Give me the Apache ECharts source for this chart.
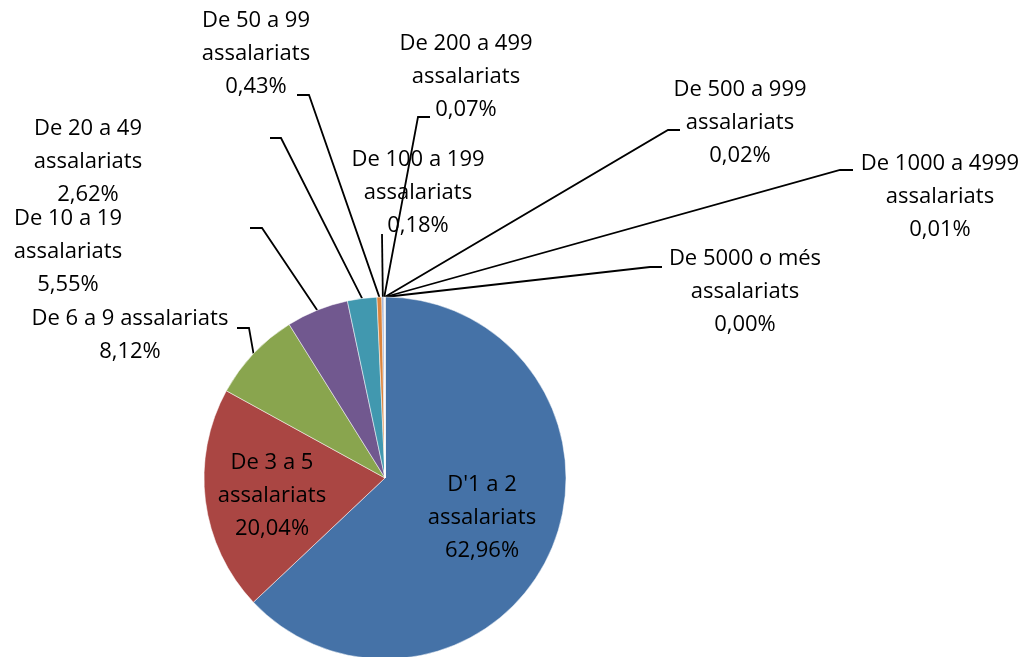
<!DOCTYPE html>
<html>
<head>
    <meta charset="utf-8" />
    <title>ECharts</title>
</head>
<body style="margin:0;background:#fff;">
<script src="https://cdn.jsdelivr.net/npm/echarts@6.0.0/dist/echarts.min.js"></script>
<div id="main" style="width: 1032px;height:657px;"></div>
<script type="text/javascript">
    // categories and their shares (%)
    var categories = [
        "D'1 a 2\nassalariats",
        'De 3 a 5\nassalariats',
        'De 6 a 9 assalariats',
        'De 10 a 19\nassalariats',
        'De 20 a 49\nassalariats',
        'De 50 a 99\nassalariats',
        'De 100 a 199\nassalariats',
        'De 200 a 499\nassalariats',
        'De 500 a 999\nassalariats',
        'De 1000 a 4999\nassalariats',
        'De 5000 o més\nassalariats'
    ];
    var shares = [62.96, 20.04, 8.12, 5.55, 2.62, 0.43, 0.18, 0.07, 0.02, 0.01, 0.00];

    var colors = ['#4572A7', '#AA4643', '#89A54E', '#71588F', '#4198AF', '#DB843D',
        '#93A9CF', '#D19392', '#B9CD96', '#A99BBD', '#91C3D5'];

    // label centers and leader line elbow / end (null = inside, no line)
    var labelPos = [
        [482, 518], [272, 496], [130, 335], [68, 252], [88, 162], [256, 54],
        [418, 193], [466, 77], [740, 123], [940, 197], [745, 292]
    ];
    var leaders = [
        null, null,
        [[249, 328], [237, 328]],
        [[262, 228], [250, 228]],
        [[281, 138], [270, 138]],
        [[309, 95], [297, 95]],
        [[382, 234], [382, 234]],
        [[418, 117], [430, 117]],
        [[668, 130], [680, 130]],
        [[840, 170], [853, 170]],
        [[650, 267], [662, 267]]
    ];

    var myChart = echarts.init(document.getElementById('main'));

    var seriesData = categories.map(function (c, i) {
        return {
            name: c,
            value: shares[i],
            itemStyle: { color: colors[i] },
            label: { position: i < 2 ? 'inside' : 'outside' },
            labelLine: { show: i >= 2 }
        };
    });

    var option = {
        animation: false,
        series: [
            {
                type: 'pie',
                center: [385, 478],
                radius: 181,
                startAngle: 90,
                clockwise: true,
                avoidLabelOverlap: false,
                minShowLabelAngle: 0,
                itemStyle: { borderColor: '#fff', borderWidth: 0.5 },
                label: {
                    show: true,
                    formatter: function (p) {
                        return p.name + '\n' + p.value.toFixed(2).replace('.', ',') + '%';
                    },
                    fontFamily: 'Open Sans',
                    fontSize: 22,
                    lineHeight: 33,
                    color: '#000',
                    align: 'center'
                },
                labelLine: {
                    show: true,
                    lineStyle: { color: '#000', width: 1.8 }
                },
                labelLayout: function (params) {
                    var i = params.dataIndex;
                    var res = {
                        x: labelPos[i][0],
                        y: labelPos[i][1],
                        align: 'center',
                        verticalAlign: 'middle'
                    };
                    if (leaders[i] && params.labelLinePoints) {
                        res.labelLinePoints = [params.labelLinePoints[0], leaders[i][0], leaders[i][1]];
                    }
                    return res;
                },
                data: seriesData
            }
        ]
    };

    myChart.setOption(option);
</script>
</body>
</html>
